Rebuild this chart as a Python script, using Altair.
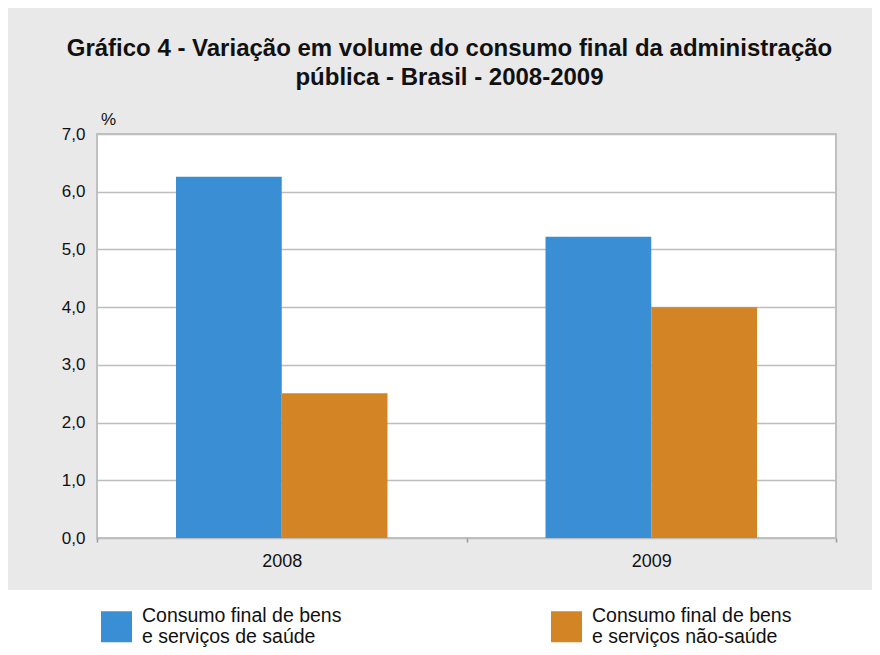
import altair as alt
import pandas as pd

years = ["2008", "2009"]
series_names = [
    "Consumo final de bens|e serviços de saúde",
    "Consumo final de bens|e serviços não-saúde",
]
saude = [6.26, 5.22]
nao_saude = [2.51, 4.0]
colors = ["#3a8fd4", "#d38526"]
y_ticks = [0, 1, 2, 3, 4, 5, 6, 7]

rows = []
for i, yr in enumerate(years):
    rows.append({"ano": yr, "serie": series_names[0], "valor": saude[i]})
    rows.append({"ano": yr, "serie": series_names[1], "valor": nao_saude[i]})
df = pd.DataFrame(rows)

W, H = 739, 404
FONT = "Liberation Sans"

one = pd.DataFrame({"k": [0]})

# white strip under the grey panel (legend area)
white_bottom = alt.Chart(one).mark_rect(color="white").encode(
    x=alt.value(-100), x2=alt.value(800), y=alt.value(456), y2=alt.value(530)
)

bars = alt.Chart(df).mark_bar().encode(
    x=alt.X(
        "ano:N",
        sort=years,
        scale=alt.Scale(paddingInner=0, paddingOuter=0),
        axis=alt.Axis(
            title=None,
            labelAngle=0,
            labelFont=FONT,
            labelFontSize=18,
            labelColor="#111111",
            labelPadding=10,
            tickBand="extent",
            ticks=True,
            tickSize=4,
            tickColor="#9a9a9a",
            tickWidth=1.5,
            domain=False,
            grid=False,
        ),
    ),
    xOffset=alt.XOffset(
        "serie:N",
        sort=series_names,
        scale=alt.Scale(paddingInner=0, paddingOuter=0.747),
    ),
    y=alt.Y(
        "valor:Q",
        scale=alt.Scale(domain=[0, 7], nice=False),
        axis=alt.Axis(
            values=y_ticks,
            labelExpr="replace(format(datum.value, '.1f'), '.', ',')",
            labelFont=FONT,
            labelFontSize=17,
            labelColor="#111111",
            labelPadding=12,
            ticks=False,
            domain=False,
            grid=True,
            gridColor="#bdbdbd",
            gridWidth=1.5,
            title="%",
            titleAngle=0,
            titleX=11,
            titleY=-6,
            titleAlign="center",
            titleBaseline="bottom",
            titleFont=FONT,
            titleFontSize=17,
            titleFontWeight="normal",
            titleColor="#111111",
        ),
    ),
    color=alt.Color(
        "serie:N",
        sort=series_names,
        scale=alt.Scale(domain=series_names, range=colors),
        legend=alt.Legend(
            title=None,
            orient="none",
            legendX=4,
            legendY=477,
            direction="horizontal",
            columns=2,
            columnPadding=209,
            symbolType="square",
            symbolSize=961,
            symbolStrokeWidth=0,
            symbolOpacity=1,
            labelOffset=10,
            labelFont=FONT,
            labelFontSize=19.5,
            labelColor="#111111",
            labelLimit=400,
            labelBaseline="line-bottom",
            labelExpr="split(datum.label, '|')",
            padding=0,
        ),
    ),
)

chart = (
    alt.layer(white_bottom, bars)
    .properties(
        width=W,
        height=H,
        padding={"left": 89, "top": 126, "right": 36, "bottom": 109},
        autosize=alt.AutoSizeParams(type="none"),
        background="#e9e9e9",
        title=alt.TitleParams(
            text=[
                "Gráfico 4 - Variação em volume do consumo final da administração",
                "pública - Brasil - 2008-2009",
            ],
            font=FONT,
            fontSize=24,
            fontWeight="bold",
            color="#111111",
            anchor="middle",
            frame="group",
            dx=-17,
            offset=20,
            lineHeight=29,
        ),
    )
    .configure_view(fill="white", stroke="#c0c0c0", strokeWidth=2)
)

chart.save("out.html", embed_options={"renderer": "svg", "actions": False})
